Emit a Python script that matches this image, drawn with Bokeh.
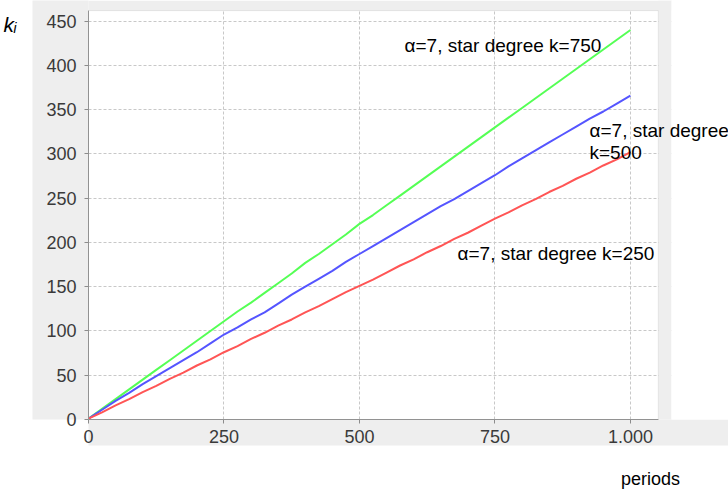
from bokeh.plotting import figure
from bokeh.models import Range1d, BoxAnnotation, Label, FixedTicker, LinearAxis
from bokeh.embed import file_html
from bokeh.resources import INLINE

# Degree k_i of the star node over simulation periods, one series per initial star degree
periods = [0, 25, 50, 75, 100, 125, 150, 175, 200, 225, 250, 275, 300, 325, 350,
           375, 400, 425, 450, 475, 500, 525, 550, 575, 600, 625, 650, 675, 700,
           725, 750, 775, 800, 825, 850, 875, 900, 925, 950, 975, 1000]

k_star_750 = [1, 12, 23, 34, 45, 56, 67, 78, 89, 100, 111, 122, 132, 143, 154,
              165, 177, 187, 198, 209, 221, 231, 242, 253, 264, 275, 286, 297, 308,
              319, 330, 341, 352, 363, 374, 385, 396, 407, 418, 429, 440]

k_star_500 = [1, 11, 21, 30, 40, 49, 58, 67, 76, 86, 96, 104, 113, 121, 131,
              141, 150, 159, 168, 178, 187, 196, 205, 214, 223, 232, 241, 249, 258,
              267, 276, 286, 295, 304, 313, 322, 331, 340, 348, 357, 366]

k_star_250 = [1, 8, 16, 23, 31, 38, 46, 53, 61, 68, 76, 83, 91, 98, 106,
              113, 121, 128, 136, 144, 151, 158, 166, 174, 181, 189, 196, 204, 211,
              219, 227, 234, 242, 249, 257, 264, 272, 279, 287, 294, 302]

x_ticks = [0, 250, 500, 750, 1000]
x_tick_labels = ["0", "250", "500", "750", "1.000"]
y_ticks = [0, 50, 100, 150, 200, 250, 300, 350, 400, 450]

X_MAX = 1051.5   # right edge of the plot area
Y_MAX = 462      # top edge of the plot area

FONT = "Liberation Sans"
PANEL = "#eeeeee"

p = figure(width=728, height=494, output_backend="svg", toolbar_location=None,
           x_range=Range1d(0, 1181), y_range=Range1d(0, 473.4),
           min_border_left=87, min_border_right=0, min_border_top=0,
           min_border_bottom=75)
p.border_fill_color = "white"
p.background_fill_color = "white"
p.outline_line_color = None

for ax in (p.xaxis[0], p.yaxis[0]):
    ax.axis_line_color = "#8c8c8c"
    ax.major_tick_line_color = "#8c8c8c"
    ax.major_tick_out = 4
    ax.major_tick_in = 0
    ax.minor_tick_line_color = None
    ax.major_label_text_font = FONT
    ax.major_label_text_font_size = "18px"
    ax.major_label_text_color = "#3a3a3a"
    ax.background_fill_color = PANEL

p.xaxis.ticker = FixedTicker(ticks=x_ticks)
p.xaxis.major_label_overrides = {t: s for t, s in zip(x_ticks, x_tick_labels)}
p.xaxis.major_label_standoff = 6
p.xaxis.bounds = (0, X_MAX)
p.yaxis.ticker = FixedTicker(ticks=y_ticks)
p.yaxis.major_label_standoff = 8
p.yaxis.bounds = (0, Y_MAX)
# a blank spacer caption widens the gray strip behind the y tick labels
p.yaxis.axis_label = " "
p.yaxis.axis_label_text_font_size = "1px"
p.yaxis.axis_label_standoff = 7

# outer caption axes: one labelled tick each, placed beside the gray panel
cap_style = dict(axis_line_color=None, major_tick_line_color=None,
                 minor_tick_line_color=None, major_tick_out=0, major_tick_in=0,
                 major_label_text_color="black", major_label_text_font=FONT)
k_axis = LinearAxis(ticker=FixedTicker(ticks=[446.7]),
                    major_label_overrides={446.7: "kᵢ"},
                    major_label_standoff=16, major_label_text_font_size="21px",
                    major_label_text_font_style="italic", **cap_style)
p.add_layout(k_axis, "left")
t_axis = LinearAxis(ticker=FixedTicker(ticks=[1037]),
                    major_label_overrides={1037: "periods"},
                    major_label_standoff=23, major_label_text_font_size="18px",
                    **cap_style)
p.add_layout(t_axis, "below")

p.grid.grid_line_color = "#c8c8c8"
p.grid.grid_line_dash = "3 2"
p.grid.grid_line_width = 1

p.line(periods, k_star_750, line_color="#55ff55", line_width=2)
p.line(periods, k_star_500, line_color="#5555ff", line_width=2)
p.line(periods, k_star_250, line_color="#ff5555", line_width=2)

# gray panel edges around the plot area, white margin to its right
box = dict(left_units="canvas", right_units="canvas", top_units="canvas",
           bottom_units="canvas", fill_alpha=1.0, line_color=None,
           propagate_hover=False, editable=False)
p.add_layout(BoxAnnotation(left=87, right=671, top=0, bottom=10, fill_color=PANEL, **box))
p.add_layout(BoxAnnotation(left=658, right=671, top=0, bottom=420, fill_color=PANEL, **box))
p.add_layout(BoxAnnotation(left=671, right=728, top=0, bottom=420, fill_color="white", **box))
p.add_layout(BoxAnnotation(left=0, right=X_MAX, bottom=0, top=Y_MAX, fill_color=None,
                           fill_alpha=0, line_color="#b4b4b4", line_width=1,
                           propagate_hover=False, editable=False))

label_style = dict(text_font=FONT, text_font_size="19px", text_color="black",
                   text_baseline="alphabetic", x_units="canvas", y_units="canvas")
p.add_layout(Label(x=404, y=45, text="α=7, star degree k=750", **label_style))
p.add_layout(Label(x=589, y=130, text="α=7, star degree", **label_style))
p.add_layout(Label(x=589, y=152, text="k=500", **label_style))
p.add_layout(Label(x=457, y=253, text="α=7, star degree k=250", **label_style))

open("out.html", "w").write(file_html(p, INLINE))
